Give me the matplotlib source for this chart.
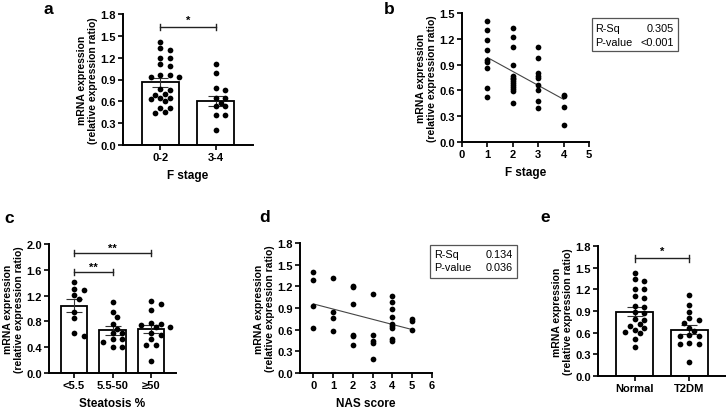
import numpy as np
import matplotlib
matplotlib.use('Agg')
import matplotlib.pyplot as plt
from matplotlib.patches import Rectangle

plt.rcParams['font.family'] = ['Liberation Sans', 'DejaVu Sans']

# ---- panel a: F stage groups ----
a_groups = ['0-2', '3-4']
a_vals = [
    [1.41, 1.33, 1.30, 1.20, 1.19, 1.11, 1.08, 0.96, 0.96, 0.93, 0.93, 0.77,
     0.75, 0.70, 0.69, 0.64, 0.64, 0.63, 0.60, 0.51, 0.51, 0.45, 0.44],
    [1.11, 0.99, 0.79, 0.76, 0.65, 0.64, 0.58, 0.53, 0.53, 0.41, 0.41, 0.20],
]
a_mean = [0.86, 0.61]
a_sem = [0.06, 0.07]

# ---- panel b: F stage scatter ----
b_stage = [1] * 9 + [2] * 14 + [3] * 9 + [4] * 4
b_vals = [1.41, 1.30, 1.19, 1.07, 0.95, 0.93, 0.86, 0.63, 0.52,
          1.33, 1.22, 1.11, 0.89, 0.77, 0.75, 0.73, 0.71, 0.69, 0.66, 0.64, 0.62, 0.59, 0.45,
          1.11, 0.98, 0.80, 0.77, 0.74, 0.66, 0.60, 0.48, 0.39,
          0.55, 0.53, 0.41, 0.20]
b_stats = [('R-Sq', '0.305'), ('P-value', '<0.001')]

# ---- panel c: steatosis groups ----
c_groups = ['<5.5', '5.5-50', '≥50']
c_vals = [
    [1.41, 1.31, 1.29, 1.21, 1.15, 0.95, 0.85, 0.62, 0.58],
    [1.10, 0.95, 0.87, 0.76, 0.68, 0.62, 0.62, 0.52, 0.52, 0.48, 0.40, 0.40],
    [1.11, 1.07, 0.98, 0.78, 0.76, 0.74, 0.72, 0.71, 0.62, 0.59, 0.52, 0.44, 0.43, 0.19],
]
c_mean = [1.04, 0.66, 0.68]
c_sem = [0.10, 0.07, 0.06]

# ---- panel d: NAS score scatter ----
d_score = [0] * 4 + [1] * 4 + [2] * 6 + [3] * 5 + [4] * 9 + [5] * 3
d_vals = [1.40, 1.29, 0.93, 0.62,
          1.31, 0.85, 0.76, 0.58,
          1.21, 1.19, 0.95, 0.53, 0.51, 0.39,
          1.10, 0.52, 0.44, 0.41, 0.20,
          1.07, 0.98, 0.88, 0.78, 0.68, 0.65, 0.62, 0.47, 0.45,
          0.75, 0.72, 0.59]
d_stats = [('R-Sq', '0.134'), ('P-value', '0.036')]

# ---- panel e: diabetes groups ----
e_groups = ['Normal', 'T2DM']
e_vals = [
    [1.43, 1.34, 1.31, 1.20, 1.20, 1.11, 1.08, 0.97, 0.95, 0.88, 0.87, 0.79,
     0.77, 0.72, 0.69, 0.66, 0.64, 0.61, 0.60, 0.51, 0.40],
    [1.12, 0.99, 0.88, 0.80, 0.77, 0.74, 0.66, 0.62, 0.57, 0.56, 0.55, 0.46,
     0.45, 0.44, 0.20],
]
e_mean = [0.89, 0.64]
e_sem = [0.06, 0.06]

YLABEL = 'mRNA expression\n(relative expression ratio)'
W, H = 726, 410
DOT = 17

fig = plt.figure(figsize=(W / 100, H / 100), dpi=100)


def add_axes(l, r, t, b):
    # pixel box -> figure fraction
    return fig.add_axes([l / W, (H - b) / H, (r - l) / W, (b - t) / H])


def style(ax):
    for s in ['top', 'right']:
        ax.spines[s].set_visible(False)
    for s in ['left', 'bottom']:
        ax.spines[s].set_linewidth(1.4)
    ax.tick_params(width=1.2, length=3.5, labelsize=8, pad=1.5)
    for lab in ax.get_xticklabels() + ax.get_yticklabels():
        lab.set_fontweight('bold')
    ax.set_ylabel(YLABEL, fontsize=7.5, fontweight='bold', linespacing=1.05, labelpad=2)


def swarm(ax, center, vals, gap=5.6, step=4.8):
    bb = ax.get_window_extent()
    x0, x1 = ax.get_xlim()
    y0, y1 = ax.get_ylim()
    sx = bb.width / (x1 - x0)
    sy = bb.height / (y1 - y0)
    placed = []
    xs = []
    for v in vals:
        py = v * sy
        k = 0
        while True:
            off = ((k + 1) // 2) * (1 if k % 2 else -1) * step
            if all((off - px) ** 2 + (py - qy) ** 2 >= gap ** 2 for px, qy in placed):
                break
            k += 1
        placed.append((off, py))
        xs.append(center + off / sx)
    ax.scatter(xs, vals, s=DOT, color='black', zorder=4, linewidths=0)


def bar_panel(ax, groups, vals, means, sems, width, xlim, ylim, yticks):
    pos = np.arange(len(groups))
    ax.bar(pos, means, width=width, color='white', edgecolor='black', linewidth=1.3, zorder=2)
    ax.errorbar(pos, means, yerr=sems, fmt='none', ecolor='#333333', elinewidth=0.8,
                capsize=5.5, capthick=0.8, zorder=3)
    ax.set_xlim(*xlim)
    ax.set_ylim(*ylim)
    ax.set_yticks(yticks)
    ax.set_xticks(pos)
    ax.set_xticklabels(groups)
    style(ax)
    for i, v in enumerate(vals):
        swarm(ax, pos[i], v)


def bracket(ax, x1, x2, y, text, ty, tick=0.045):
    ax.plot([x1, x2], [y, y], color='#222222', lw=1.0, clip_on=False)
    ax.plot([x1, x1], [y - tick, y + tick], color='#222222', lw=1.0, clip_on=False)
    ax.plot([x2, x2], [y - tick, y + tick], color='#222222', lw=1.0, clip_on=False)
    ax.text((x1 + x2) / 2, ty, text, ha='center', va='center', fontsize=8, fontweight='bold',
            clip_on=False)


def stats_box(l, r, t, b, rows, tx, vx, ys):
    fig.patches.append(Rectangle((l / W, (H - b) / H), (r - l) / W, (b - t) / H,
                                 transform=fig.transFigure, fill=False,
                                 edgecolor='#555555', linewidth=0.9))
    for (k, v), y in zip(rows, ys):
        fig.text(tx / W, (H - y) / H, k, ha='left', va='center', fontsize=7.8)
        fig.text(vx / W, (H - y) / H, v, ha='right', va='center', fontsize=7.8)


def xlab(ax, text):
    ax.set_xlabel(text, fontsize=8.5, fontweight='bold', labelpad=5)


# a
ax_a = add_axes(123, 253, 15, 146)
bar_panel(ax_a, a_groups, a_vals, a_mean, a_sem, 0.67, (-0.67, 1.67), (0, 1.8),
          np.arange(0, 1.81, 0.3))
xlab(ax_a, 'F stage')
bracket(ax_a, 0, 1, 1.62, '*', 1.72)

# b
ax_b = add_axes(462, 589, 14, 143)
ax_b.scatter(b_stage, b_vals, s=DOT, color='black', linewidths=0, zorder=3)
bx = np.array(b_stage, dtype=float)
k_b, c_b = np.polyfit(bx, b_vals, 1)
ax_b.plot([bx.min(), bx.max()], [k_b * bx.min() + c_b, k_b * bx.max() + c_b],
          color='#444444', lw=0.8, zorder=2)
ax_b.set_xlim(0, 5)
ax_b.set_ylim(0, 1.5)
ax_b.set_xticks(range(0, 6))
ax_b.set_yticks(np.arange(0, 1.51, 0.3))
style(ax_b)
xlab(ax_b, 'F stage')
stats_box(592, 678, 19, 52, b_stats, 595, 674, [29, 43])

# c
ax_c = add_axes(49, 176, 245, 374)
bar_panel(ax_c, c_groups, c_vals, c_mean, c_sem, 0.68, (-0.65, 2.65), (0, 2.0),
          np.arange(0, 2.01, 0.4))
xlab(ax_c, 'Steatosis %')
bracket(ax_c, 0, 2, 1.86, '**', 1.94, tick=0.05)
bracket(ax_c, 0, 1, 1.57, '**', 1.65, tick=0.05)

# d
ax_d = add_axes(300, 432, 244, 374)
ax_d.scatter(d_score, d_vals, s=DOT, color='black', linewidths=0, zorder=3)
dx = np.array(d_score, dtype=float)
k_d, c_d = np.polyfit(dx, d_vals, 1)
ax_d.plot([dx.min(), dx.max()], [k_d * dx.min() + c_d, k_d * dx.max() + c_d],
          color='#444444', lw=0.8, zorder=2)
ax_d.set_xlim(-0.67, 6)
ax_d.set_ylim(0, 1.8)
ax_d.set_xticks(range(0, 7))
ax_d.set_yticks(np.arange(0, 1.81, 0.3))
style(ax_d)
xlab(ax_d, 'NAS score')
stats_box(430, 517, 246, 279, d_stats, 434, 513, [255, 268])

# e
ax_e = add_axes(598, 726, 247, 377)
bar_panel(ax_e, e_groups, e_vals, e_mean, e_sem, 0.68, (-0.68, 1.68), (0, 1.8),
          np.arange(0, 1.81, 0.3))
bracket(ax_e, 0, 1, 1.63, '*', 1.73)

# panel letters
for letter, x, y in [('a', 48, 10), ('b', 389, 10), ('c', 9, 219), ('d', 265, 218), ('e', 545, 218)]:
    fig.text(x / W, (H - y) / H, letter, ha='center', va='center', fontsize=12.5, fontweight='bold')

fig.savefig('out.png', dpi=100)
